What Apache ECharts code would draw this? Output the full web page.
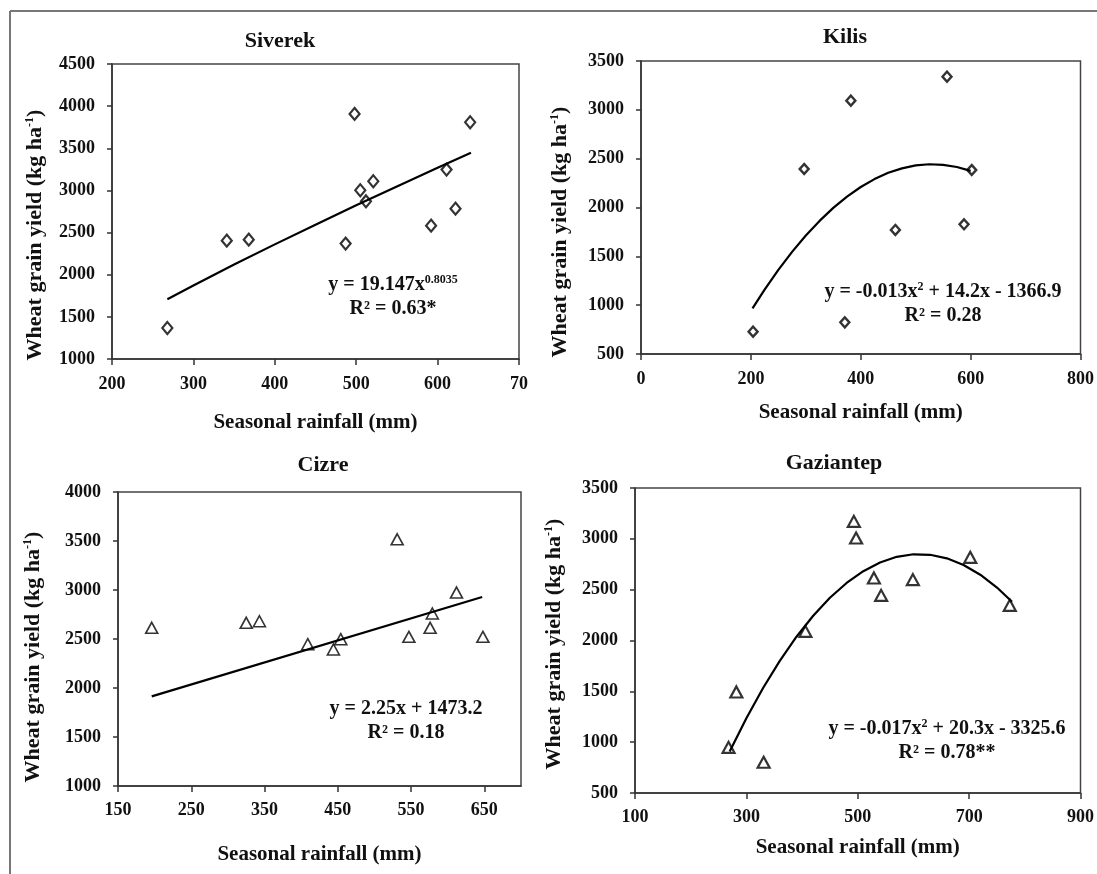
<!DOCTYPE html>
<html><head><meta charset="utf-8">
<script src="https://cdn.jsdelivr.net/npm/echarts@6/dist/echarts.min.js"></script>
<style>html,body{margin:0;padding:0;background:#fff}#c{width:1097px;height:874px}</style>
</head><body><div id="c"></div>
<script>
// ---------- data ----------
const titles = ['Siverek', 'Kilis', 'Cizre', 'Gaziantep'];
const xAxisName = 'Seasonal rainfall (mm)';
const yAxisName = 'Wheat grain yield (kg ha{sup|-1})';
const equations = ['y = 19.147x{sup|0.8035}', 'y = -0.013x{sup|2} + 14.2x - 1366.9', 'y = 2.25x + 1473.2', 'y = -0.017x{sup|2} + 20.3x - 3325.6'];
const r2Texts = ['R² = 0.63*', 'R² = 0.28', 'R² = 0.18', 'R² = 0.78**'];

const siverekRain  = [268, 341, 368, 487, 498, 505, 512, 521, 592, 611, 622, 640];
const siverekYield = [1368, 2404, 2416, 2369, 3908, 3002, 2871, 3109, 2582, 3247, 2784, 3809];
const siverekTrendX = [268, 300, 350, 400, 450, 500, 550, 600, 641];
const siverekTrendY = [1710, 1873, 2120, 2360, 2594, 2823, 3048, 3269, 3447];

const kilisRain  = [204, 297, 371, 382, 463, 557, 588, 602];
const kilisYield = [729, 2394, 824, 3094, 1770, 3340, 1828, 2384];
const kilisTrendX = [203, 225, 250, 275, 300, 325, 350, 375, 400, 425, 450, 475, 500, 525, 550, 575, 600];
const kilisTrendY = [967, 1159, 1361, 1546, 1713, 1863, 1996, 2111, 2210, 2291, 2355, 2401, 2431, 2443, 2437, 2415, 2375];

const cizreRain  = [196, 325, 343, 409, 444, 454, 531, 547, 576, 579, 612, 648];
const cizreYield = [2614, 2665, 2681, 2447, 2393, 2498, 3517, 2522, 2614, 2760, 2974, 2522];
const cizreTrendX = [196, 647];
const cizreTrendY = [1914, 2929];

const gaziRain  = [268, 282, 331, 406, 493, 497, 529, 542, 599, 702, 773];
const gaziYield = [949, 1494, 802, 2090, 3172, 3008, 2615, 2444, 2599, 2818, 2346];
const gaziTrendX = [270, 300, 330, 360, 390, 420, 450, 480, 510, 540, 570, 600, 630, 660, 690, 720, 750, 777];
const gaziTrendY = [908, 1236, 1533, 1800, 2037, 2244, 2420, 2566, 2682, 2768, 2823, 2848, 2843, 2808, 2742, 2647, 2521, 2381];

// ---------- layout ----------
const FONT = 'Liberation Serif';
const TXT = '#111';
const pairs = (xs, ys) => xs.map((x, i) => [x, ys[i]]);

const panels = [
  { rain: siverekRain, yld: siverekYield, tx: siverekTrendX, ty: siverekTrendY, symbol: 'diamond', size: [10, 12], bw: 2.2,
    grid: { left: 112, top: 64, width: 407, height: 295 }, x: [200, 700, 100], y: [1000, 4500, 500],
    titlePos: [280, 30], eqPos: [393, 285], yGap: 66, yPad: 47, xGap: 53, xMargin: 16, fmt: v => (v === 700 ? '70' : String(v)), showMax: true },
  { rain: kilisRain, yld: kilisYield, tx: kilisTrendX, ty: kilisTrendY, symbol: 'diamond', size: [9, 10], bw: 2.4,
    grid: { left: 641, top: 61, width: 440, height: 293 }, x: [0, 800, 200], y: [500, 3500, 500],
    titlePos: [845, 26], eqPos: [943, 292], yGap: 70, yPad: 49, xGap: 48, xMargin: 16, fmt: v => String(v), showMax: true },
  { rain: cizreRain, yld: cizreYield, tx: cizreTrendX, ty: cizreTrendY, symbol: 'triangle', size: [12, 11], bw: 1.6,
    grid: { left: 118, top: 492, width: 403, height: 294 }, x: [150, 700, 100], y: [1000, 4000, 500],
    titlePos: [323, 454], eqPos: [406, 709], yGap: 74, yPad: 36, xGap: 58, xMargin: 15, fmt: v => String(v), showMax: false },
  { rain: gaziRain, yld: gaziYield, tx: gaziTrendX, ty: gaziTrendY, symbol: 'triangle', size: [12, 11], bw: 2.2,
    grid: { left: 635, top: 488, width: 447, height: 305 }, x: [100, 900, 200], y: [500, 3500, 500],
    titlePos: [834, 452], eqPos: [947, 729], yGap: 70, yPad: 7, xGap: 44, xMargin: 15, fmt: v => String(v), showMax: true }
];

const supRich = { sup: { fontSize: 12, fontFamily: FONT, fontWeight: 'bold', color: TXT, padding: [0, 0, 10, 0] } };

const option = {
  animation: false,
  backgroundColor: '#fff',
  title: panels.map((p, i) => ({
    text: titles[i], left: p.titlePos[0], top: p.titlePos[1], textAlign: 'center', padding: 0,
    textStyle: { fontFamily: FONT, fontWeight: 'bold', fontSize: 22, color: TXT }
  })),
  grid: panels.map(p => Object.assign({ show: true, borderColor: '#444', borderWidth: 1.5, containLabel: false }, p.grid)),
  xAxis: panels.map((p, i) => ({
    type: 'value', gridIndex: i, min: p.x[0], max: p.x[1], interval: p.x[2],
    name: xAxisName, nameLocation: 'middle', nameGap: p.xGap,
    nameTextStyle: { fontFamily: FONT, fontWeight: 'bold', fontSize: 21, color: TXT },
    axisLine: { show: true, lineStyle: { color: '#333', width: 1.5 } },
    axisTick: { show: true, inside: false, length: 6, lineStyle: { color: '#333', width: 1.5 } },
    axisLabel: { fontFamily: FONT, fontWeight: 'bold', fontSize: 18, color: TXT, margin: p.xMargin, formatter: p.fmt, showMaxLabel: p.showMax, showMinLabel: true },
    splitLine: { show: false }
  })),
  yAxis: panels.map((p, i) => ({
    type: 'value', gridIndex: i, min: p.y[0], max: p.y[1], interval: p.y[2],
    name: yAxisName, nameLocation: 'middle', nameGap: p.yGap,
    nameTextStyle: { fontFamily: FONT, fontWeight: 'bold', fontSize: 22, color: TXT, padding: [0, p.yPad, 0, 0], rich: supRich },
    axisLine: { show: true, lineStyle: { color: '#333', width: 1.5 } },
    axisTick: { show: true, inside: false, length: 5, lineStyle: { color: '#333', width: 1.5 } },
    axisLabel: { fontFamily: FONT, fontWeight: 'bold', fontSize: 18, color: TXT, margin: 17, formatter: v => String(v), showMinLabel: true, showMaxLabel: true },
    splitLine: { show: false }
  })),
  series: [].concat(
    panels.map((p, i) => ({
      type: 'line', xAxisIndex: i, yAxisIndex: i, data: pairs(p.tx, p.ty), showSymbol: false, smooth: false,
      lineStyle: { color: '#000', width: 2.2 }, z: 2, silent: true
    })),
    panels.map((p, i) => ({
      type: 'scatter', xAxisIndex: i, yAxisIndex: i, data: pairs(p.rain, p.yld), symbol: p.symbol, symbolSize: p.size,
      itemStyle: { color: 'rgba(255,255,255,0)', borderColor: '#000', borderWidth: p.bw }, z: 3
    }))
  ),
  graphic: [].concat(
    [
      { type: 'line', shape: { x1: 10, y1: 11, x2: 1097, y2: 11 }, style: { stroke: '#777', lineWidth: 2 } },
      { type: 'line', shape: { x1: 10, y1: 11, x2: 10, y2: 874 }, style: { stroke: '#777', lineWidth: 2 } }
    ],
    panels.map((p, i) => ({
      type: 'text', x: p.eqPos[0], y: p.eqPos[1], z: 10,
      style: { text: equations[i], rich: { sup: { fontSize: 12, fontFamily: FONT, fontWeight: 'bold', fill: TXT, padding: [0, 0, 10, 0] } },
        fontFamily: FONT, fontWeight: 'bold', fontSize: 20, fill: TXT, align: 'center', verticalAlign: 'middle' }
    })),
    panels.map((p, i) => ({
      type: 'text', x: p.eqPos[0], y: p.eqPos[1] + 24, z: 10,
      style: { text: r2Texts[i], fontFamily: FONT, fontWeight: 'bold', fontSize: 20, fill: TXT, align: 'center', verticalAlign: 'middle' }
    }))
  )
};

const chart = echarts.init(document.getElementById('c'), null, { renderer: 'canvas' });
chart.setOption(option);
</script>
</body></html>
